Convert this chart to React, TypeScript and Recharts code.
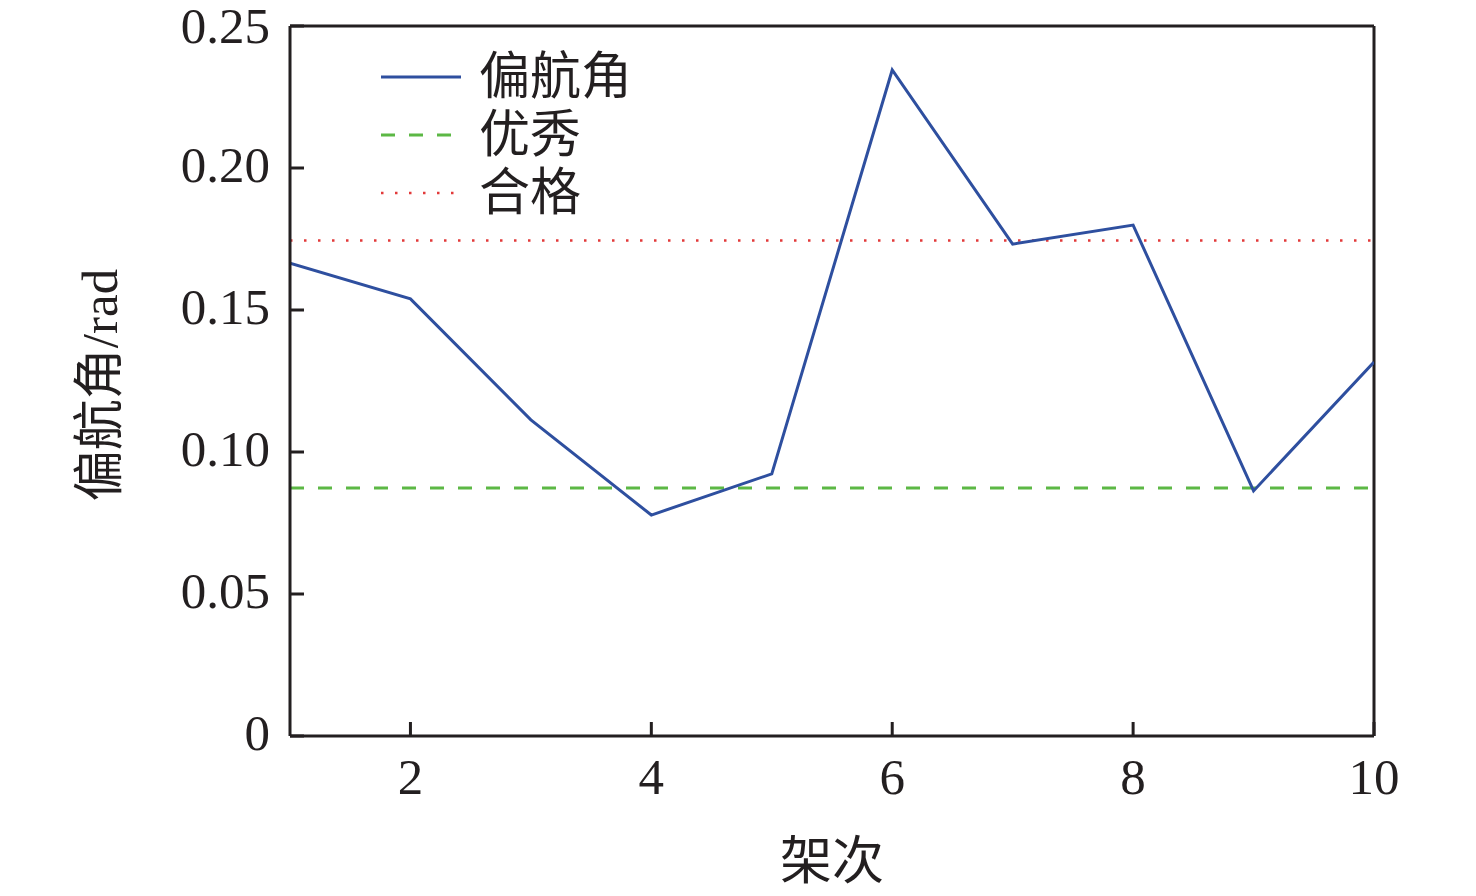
import { Legend, Line, LineChart, ReferenceLine, XAxis, YAxis } from "recharts";

const FONT = '"Liberation Serif", "Noto Sans CJK SC", serif';
const AXIS_COLOR = "#231f20";

const flights = [1, 2, 3, 4, 5, 6, 7, 8, 9, 10];
const yawValues = [0.1665, 0.1539, 0.1113, 0.0778, 0.0923, 0.2345, 0.1732, 0.1799, 0.0863, 0.1317];
const excellentLimit = 0.0873;
const passLimit = 0.1745;

const xDomain: [number, number] = [1, 10];
const yDomain: [number, number] = [0, 0.25];
const xTicks = [2, 4, 6, 8, 10];
const yTicks = [0, 0.05, 0.1, 0.15, 0.2, 0.25];

const legendItems = [
  { name: "偏航角", color: "#2e4f9f", dash: undefined as string | undefined, width: 3 },
  { name: "优秀", color: "#5cb845", dash: "14 14", width: 3 },
  { name: "合格", color: "#e23a3a", dash: "2.5 11.5", width: 2.5 },
];

const data = flights.map((f, i) => ({ flight: f, yaw: yawValues[i] }));

const axisLine = { stroke: AXIS_COLOR, strokeWidth: 3 };
const tickStyle = { fontSize: 51, fontFamily: FONT, fill: AXIS_COLOR };

function LegendBox() {
  return (
    <div style={{ fontFamily: FONT, fontSize: 51, color: AXIS_COLOR }}>
      {legendItems.map((item) => (
        <div key={item.name} style={{ display: "flex", alignItems: "center", height: 58 }}>
          <svg width={80} height={10} style={{ marginRight: 18 }}>
            <line
              x1={0}
              y1={5}
              x2={80}
              y2={5}
              stroke={item.color}
              strokeWidth={item.width}
              strokeDasharray={item.dash}
            />
          </svg>
          <span style={{ lineHeight: "58px" }}>{item.name}</span>
        </div>
      ))}
    </div>
  );
}

function YLabel(props: any) {
  const vb = props.viewBox || { x: 0, y: 0, width: 0, height: 0 };
  const cx = vb.x + 100;
  const cy = vb.y + vb.height / 2 + 4;
  return (
    <text
      x={cx}
      y={cy}
      transform={`rotate(-90, ${cx}, ${cy})`}
      textAnchor="middle"
      dominantBaseline="central"
      fontSize={51}
      fontFamily={FONT}
      fill={AXIS_COLOR}
    >
      偏航角/rad
    </text>
  );
}

export default function App() {
  return (
    <div style={{ position: "absolute", left: 0, top: 0, width: 1476, height: 896, background: "#fff" }}>
      <LineChart width={1476} height={896} data={data} margin={{ top: 26, right: 102, bottom: 0, left: 0 }}>
        <XAxis
          dataKey="flight"
          type="number"
          domain={xDomain}
          ticks={xTicks}
          height={160}
          tickSize={-14}
          tickMargin={36}
          axisLine={axisLine}
          tickLine={axisLine}
          tick={tickStyle}
          label={{ value: "架次", position: "insideBottom", offset: 17, fontSize: 52, fontFamily: FONT, fill: AXIS_COLOR }}
          allowDataOverflow
        />
        <YAxis
          type="number"
          domain={yDomain}
          ticks={yTicks}
          width={290}
          tickSize={-14}
          tickMargin={34}
          axisLine={axisLine}
          tickLine={axisLine}
          tickFormatter={(v: number) => (v === 0 ? "0" : v.toFixed(2))}
          tick={{ ...tickStyle, dy: -4 }}
          label={<YLabel />}
          allowDataOverflow
        />
        {/* frame on top and right */}
        <ReferenceLine y={yDomain[1]} stroke={AXIS_COLOR} strokeWidth={3} />
        <ReferenceLine x={xDomain[1]} stroke={AXIS_COLOR} strokeWidth={3} />
        <ReferenceLine
          y={excellentLimit}
          stroke={legendItems[1].color}
          strokeWidth={legendItems[1].width}
          strokeDasharray={legendItems[1].dash}
        />
        <ReferenceLine
          y={passLimit}
          stroke={legendItems[2].color}
          strokeWidth={legendItems[2].width}
          strokeDasharray={legendItems[2].dash}
        />
        <Line
          dataKey="yaw"
          stroke={legendItems[0].color}
          strokeWidth={3}
          dot={false}
          activeDot={false}
          isAnimationActive={false}
        />
        <Legend
          layout="vertical"
          align="center"
          verticalAlign="middle"
          content={() => <LegendBox />}
          wrapperStyle={{ left: 381, top: 48, width: "auto" }}
        />
      </LineChart>
    </div>
  );
}
